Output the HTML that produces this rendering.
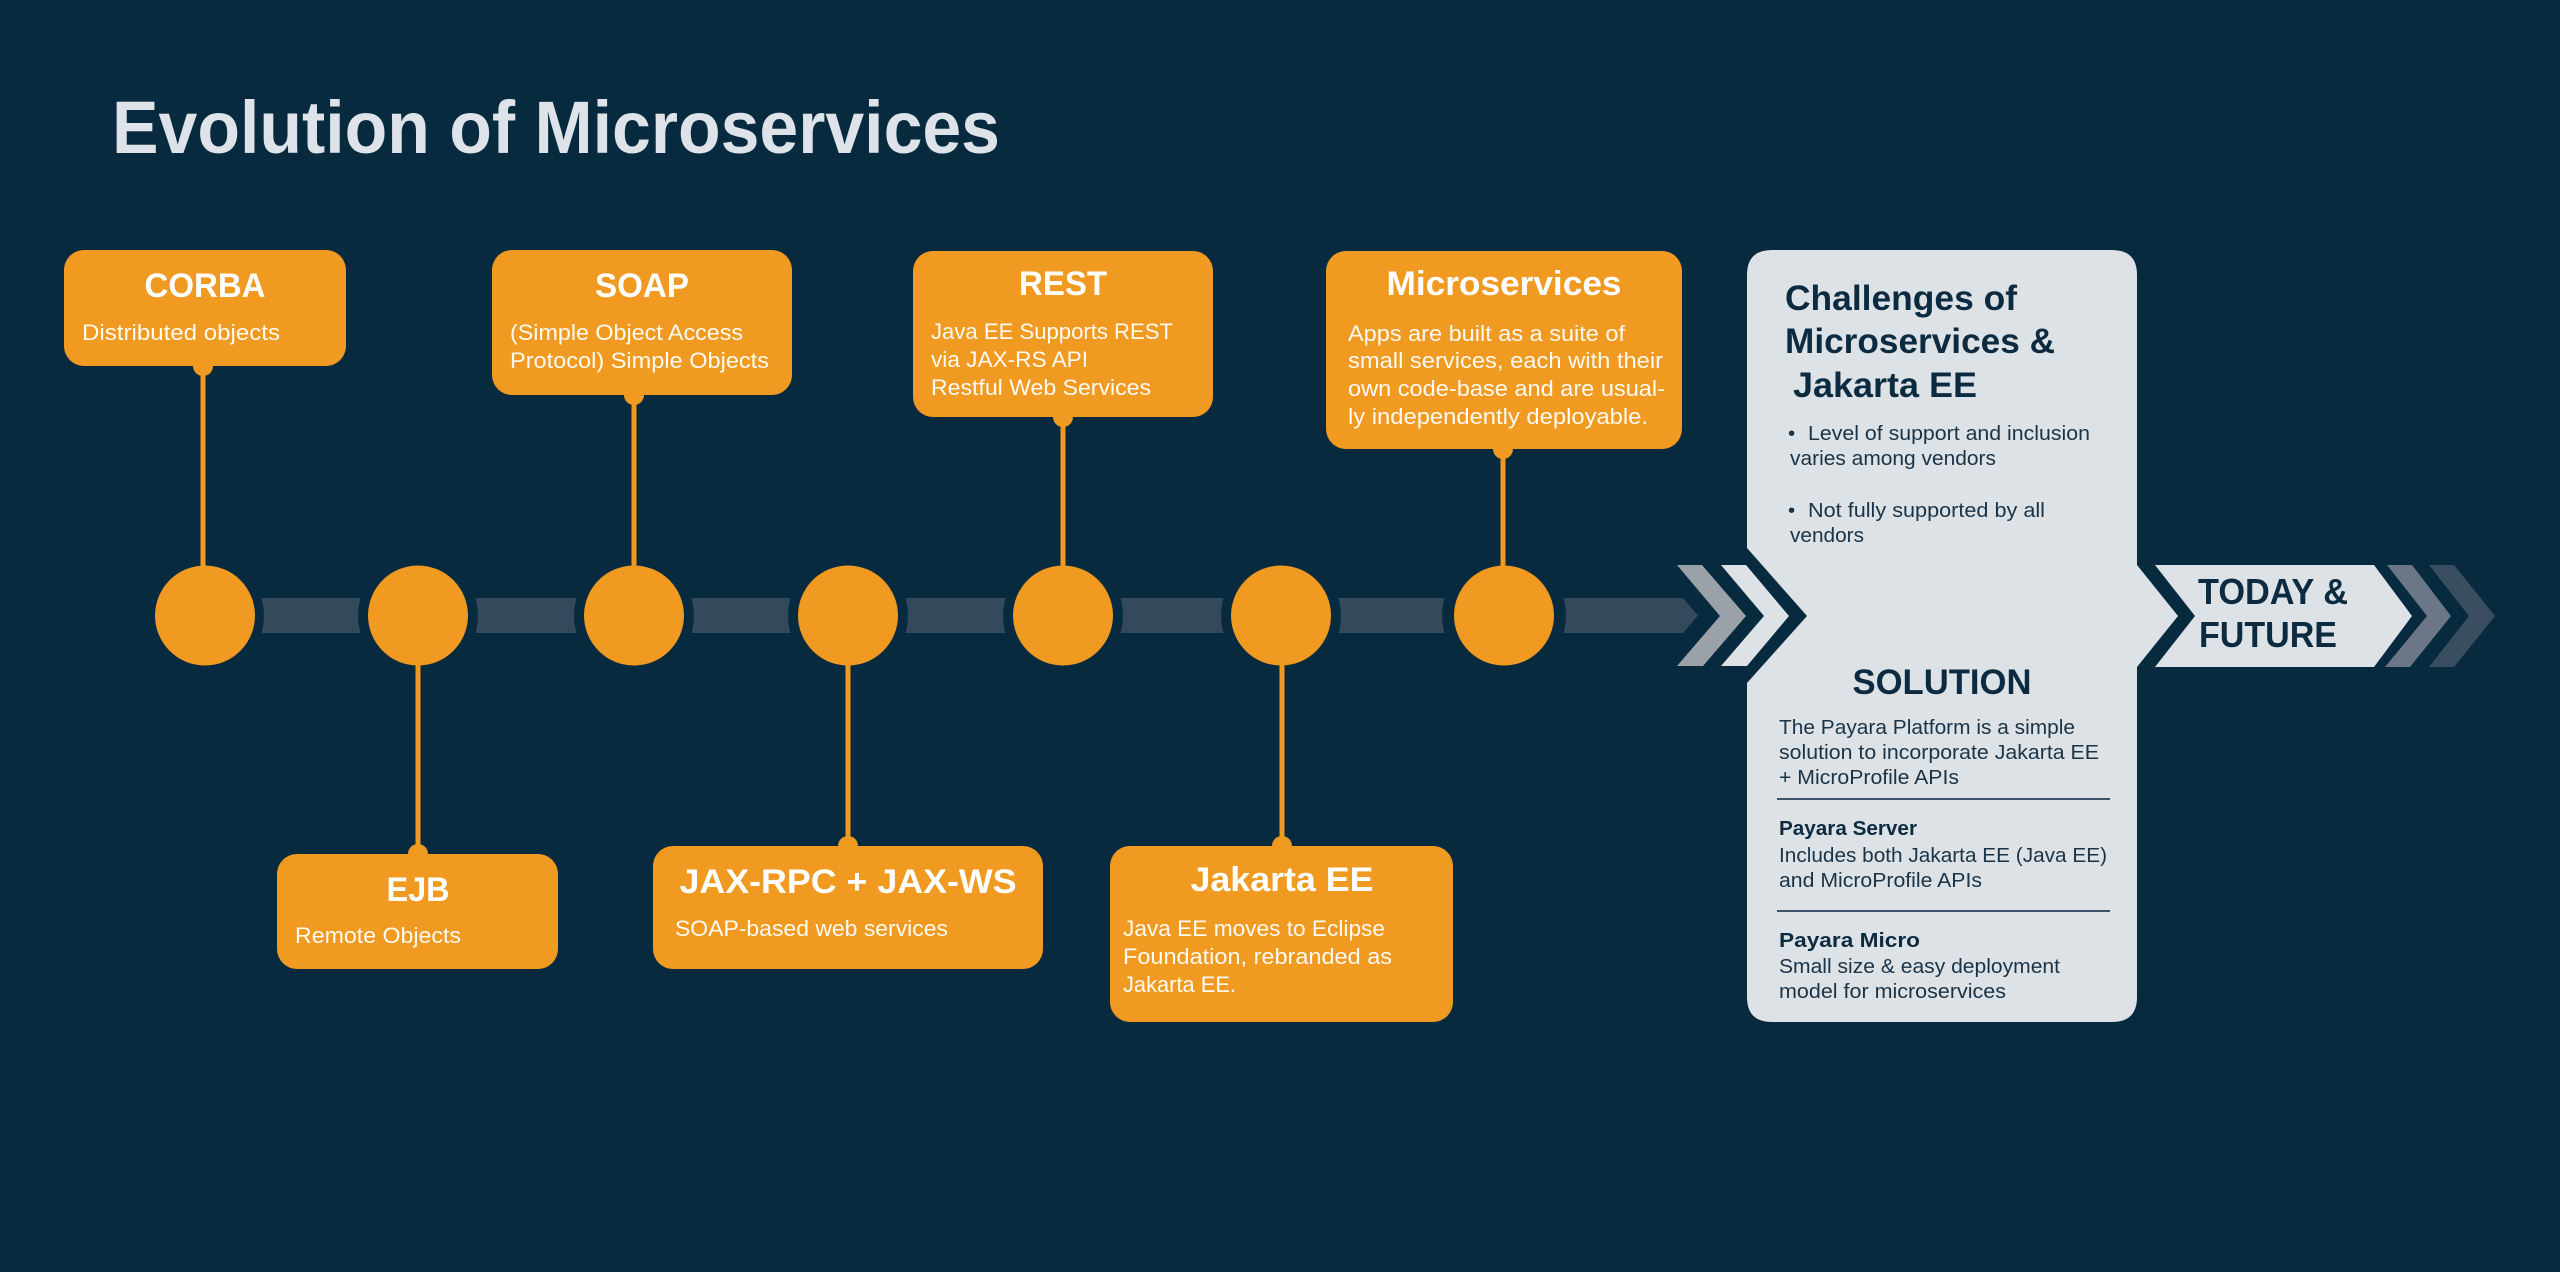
<!DOCTYPE html>
<html>
<head>
<meta charset="utf-8">
<style>
  html,body{margin:0;padding:0;background:#082a3f;}
  svg{display:block;}
  text{font-family:"Liberation Sans", Arial, sans-serif;}
  .t{font-weight:bold;fill:#ffffff;font-size:34px;}
  .b{fill:#fffaf2;font-size:22.5px;}
  .pt{font-weight:bold;fill:#0c2b40;font-size:35px;}
  .pb{fill:#1a3347;font-size:20.5px;}
  .pbb{fill:#0c2b40;font-size:20.5px;font-weight:bold;}
</style>
</head>
<body>
<svg width="2560" height="1272" viewBox="0 0 2560 1272" xmlns="http://www.w3.org/2000/svg">
  <rect width="2560" height="1272" fill="#082a3f"/>

  <!-- Title -->
  <text x="112" y="153" font-size="74" font-weight="bold" fill="#dde3e9" textLength="888" lengthAdjust="spacingAndGlyphs">Evolution of Microservices</text>

  <!-- timeline bar -->
  <path d="M255,598 H1683 L1698,615.5 L1683,633 H255 Z" fill="#34495c"/>

  <!-- rings cutting the bar -->
  <g fill="#082a3f">
    <circle cx="205" cy="615.5" r="59"/>
    <circle cx="418" cy="615.5" r="60"/>
    <circle cx="634" cy="615.5" r="60"/>
    <circle cx="848" cy="615.5" r="60"/>
    <circle cx="1063" cy="615.5" r="60"/>
    <circle cx="1281" cy="615.5" r="60"/>
    <circle cx="1504" cy="615.5" r="62"/>
  </g>

  <!-- connector lines -->
  <g stroke="#f09a21" stroke-width="5">
    <line x1="203" y1="366" x2="203" y2="575"/>
    <line x1="634" y1="395" x2="634" y2="575"/>
    <line x1="1063" y1="417" x2="1063" y2="575"/>
    <line x1="1503" y1="449" x2="1503" y2="575"/>
    <line x1="418" y1="655" x2="418" y2="854"/>
    <line x1="848" y1="655" x2="848" y2="846"/>
    <line x1="1282" y1="655" x2="1282" y2="846"/>
  </g>

  <!-- nodes -->
  <g fill="#f09a21">
    <circle cx="205" cy="615.5" r="50"/>
    <circle cx="418" cy="615.5" r="50"/>
    <circle cx="634" cy="615.5" r="50"/>
    <circle cx="848" cy="615.5" r="50"/>
    <circle cx="1063" cy="615.5" r="50"/>
    <circle cx="1281" cy="615.5" r="50"/>
    <circle cx="1504" cy="615.5" r="50"/>

    <!-- connector dots -->
    <circle cx="203" cy="366" r="10"/>
    <circle cx="634" cy="395" r="10"/>
    <circle cx="1063" cy="417" r="10"/>
    <circle cx="1503" cy="449" r="10"/>
    <circle cx="418" cy="854" r="10"/>
    <circle cx="848" cy="846" r="10"/>
    <circle cx="1282" cy="846" r="10"/>

    <!-- boxes -->
    <rect x="64" y="250" width="282" height="116" rx="20"/>
    <rect x="492" y="250" width="300" height="145" rx="20"/>
    <rect x="913" y="251" width="300" height="166" rx="20"/>
    <rect x="1326" y="251" width="356" height="198" rx="20"/>
    <rect x="277" y="854" width="281" height="115" rx="20"/>
    <rect x="653" y="846" width="390" height="123" rx="20"/>
    <rect x="1110" y="846" width="343" height="176" rx="20"/>
  </g>

  <!-- CORBA -->
  <text class="t" x="205" y="297" text-anchor="middle" textLength="121" lengthAdjust="spacingAndGlyphs">CORBA</text>
  <text class="b" x="82" y="340" textLength="198" lengthAdjust="spacingAndGlyphs">Distributed objects</text>

  <!-- SOAP -->
  <text class="t" x="642" y="297" text-anchor="middle" textLength="94" lengthAdjust="spacingAndGlyphs">SOAP</text>
  <text class="b" x="510" y="340" textLength="233" lengthAdjust="spacingAndGlyphs">(Simple Object Access</text>
  <text class="b" x="510" y="368" textLength="259" lengthAdjust="spacingAndGlyphs">Protocol) Simple Objects</text>

  <!-- REST -->
  <text class="t" x="1063" y="295" text-anchor="middle" textLength="88" lengthAdjust="spacingAndGlyphs">REST</text>
  <text class="b" x="931" y="339" textLength="242" lengthAdjust="spacingAndGlyphs">Java EE Supports REST</text>
  <text class="b" x="931" y="367" textLength="157" lengthAdjust="spacingAndGlyphs">via JAX-RS API</text>
  <text class="b" x="931" y="395" textLength="220" lengthAdjust="spacingAndGlyphs">Restful Web Services</text>

  <!-- Microservices -->
  <text class="t" x="1504" y="295" text-anchor="middle" textLength="235" lengthAdjust="spacingAndGlyphs">Microservices</text>
  <text class="b" x="1348" y="341" textLength="277" lengthAdjust="spacingAndGlyphs">Apps are built as a suite of</text>
  <text class="b" x="1348" y="368" textLength="315" lengthAdjust="spacingAndGlyphs">small services, each with their</text>
  <text class="b" x="1348" y="396" textLength="317" lengthAdjust="spacingAndGlyphs">own code-base and are usual-</text>
  <text class="b" x="1348" y="424" textLength="300" lengthAdjust="spacingAndGlyphs">ly independently deployable.</text>

  <!-- EJB -->
  <text class="t" x="418" y="901" text-anchor="middle" textLength="63" lengthAdjust="spacingAndGlyphs">EJB</text>
  <text class="b" x="295" y="943" textLength="166" lengthAdjust="spacingAndGlyphs">Remote Objects</text>

  <!-- JAX -->
  <text class="t" x="848" y="893" text-anchor="middle" textLength="337" lengthAdjust="spacingAndGlyphs">JAX-RPC + JAX-WS</text>
  <text class="b" x="675" y="936" textLength="273" lengthAdjust="spacingAndGlyphs">SOAP-based web services</text>

  <!-- Jakarta EE -->
  <text class="t" x="1282" y="891" text-anchor="middle" textLength="183" lengthAdjust="spacingAndGlyphs">Jakarta EE</text>
  <text class="b" x="1123" y="936" textLength="262" lengthAdjust="spacingAndGlyphs">Java EE moves to Eclipse</text>
  <text class="b" x="1123" y="964" textLength="269" lengthAdjust="spacingAndGlyphs">Foundation, rebranded as</text>
  <text class="b" x="1123" y="992" textLength="113" lengthAdjust="spacingAndGlyphs">Jakarta EE.</text>

  <!-- left chevrons -->
  <polygon points="1677,565 1702,565 1746,616 1703,666 1677,666 1720,616" fill="#9aa1a9"/>
  <polygon points="1721,565 1746,565 1789,616 1747,666 1721,666 1764,616" fill="#dde2e6"/>

  <!-- right panel -->
  <path d="M1772,250 H2112 Q2137,250 2137,275 V565 L2178,616 L2137,667 V997 Q2137,1022 2112,1022 H1772 Q1747,1022 1747,997 V683 L1807,616 L1747,548 V275 Q1747,250 1772,250 Z" fill="#dde2e6"/>

  <!-- TODAY chevrons -->
  <polygon points="2155,565 2374,565 2412,616 2374,667 2155,667 2195,616" fill="#dde2e6"/>
  <polygon points="2387,565 2412,565 2451,616 2410,667 2385,667 2427,616" fill="#6b7786"/>
  <polygon points="2429,565 2454,565 2495,616 2454,667 2429,667 2469,616" fill="#3b4e61"/>

  <text x="2198" y="604" font-size="36" font-weight="bold" fill="#0c2b40" textLength="150" lengthAdjust="spacingAndGlyphs">TODAY &amp;</text>
  <text x="2199" y="647" font-size="36" font-weight="bold" fill="#0c2b40" textLength="138" lengthAdjust="spacingAndGlyphs">FUTURE</text>

  <!-- panel text -->
  <text class="pt" x="1785" y="310" textLength="232" lengthAdjust="spacingAndGlyphs">Challenges of</text>
  <text class="pt" x="1785" y="353" textLength="270" lengthAdjust="spacingAndGlyphs">Microservices &amp;</text>
  <text class="pt" x="1793" y="397" textLength="184" lengthAdjust="spacingAndGlyphs">Jakarta EE</text>

  <text class="pb" x="1788" y="440">•</text>
  <text class="pb" x="1808" y="440" textLength="282" lengthAdjust="spacingAndGlyphs">Level of support and inclusion</text>
  <text class="pb" x="1790" y="465" textLength="206" lengthAdjust="spacingAndGlyphs">varies among vendors</text>

  <text class="pb" x="1788" y="517">•</text>
  <text class="pb" x="1808" y="517" textLength="237" lengthAdjust="spacingAndGlyphs">Not fully supported by all</text>
  <text class="pb" x="1790" y="542" textLength="74" lengthAdjust="spacingAndGlyphs">vendors</text>

  <text class="pt" x="1942" y="694" text-anchor="middle" textLength="179" lengthAdjust="spacingAndGlyphs">SOLUTION</text>

  <text class="pb" x="1779" y="734" textLength="296" lengthAdjust="spacingAndGlyphs">The Payara Platform is a simple</text>
  <text class="pb" x="1779" y="759" textLength="320" lengthAdjust="spacingAndGlyphs">solution to incorporate Jakarta EE</text>
  <text class="pb" x="1779" y="784" textLength="180" lengthAdjust="spacingAndGlyphs">+ MicroProfile APIs</text>

  <line x1="1777" y1="799" x2="2110" y2="799" stroke="#3d5266" stroke-width="2"/>

  <text class="pbb" x="1779" y="835" textLength="138" lengthAdjust="spacingAndGlyphs">Payara Server</text>
  <text class="pb" x="1779" y="862" textLength="328" lengthAdjust="spacingAndGlyphs">Includes both Jakarta EE (Java EE)</text>
  <text class="pb" x="1779" y="887" textLength="203" lengthAdjust="spacingAndGlyphs">and MicroProfile APIs</text>

  <line x1="1777" y1="911" x2="2110" y2="911" stroke="#3d5266" stroke-width="2"/>

  <text class="pbb" x="1779" y="947" textLength="141" lengthAdjust="spacingAndGlyphs">Payara Micro</text>
  <text class="pb" x="1779" y="973" textLength="281" lengthAdjust="spacingAndGlyphs">Small size &amp; easy deployment</text>
  <text class="pb" x="1779" y="998" textLength="227" lengthAdjust="spacingAndGlyphs">model for microservices</text>
</svg>
</body>
</html>
